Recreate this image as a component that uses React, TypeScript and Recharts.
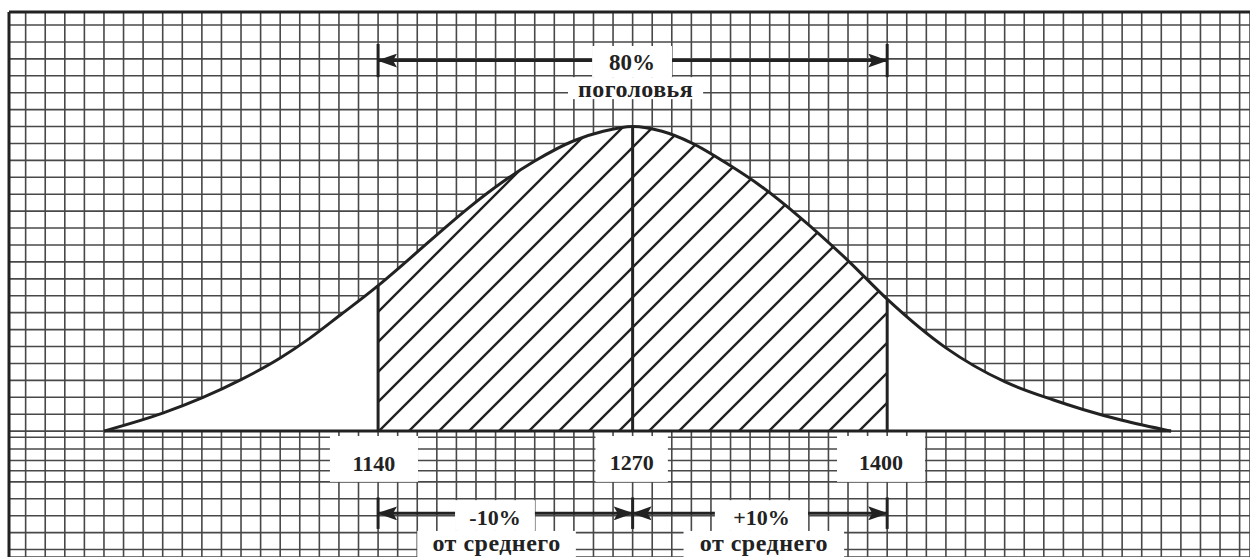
import React from 'react';
import { ComposedChart, Area, Line, XAxis, YAxis, CartesianGrid, ReferenceLine, ReferenceArea } from 'recharts';

// live weight, kg (x) and relative number of heads (y)
const weights = [1000, 1030, 1050, 1070, 1090, 1105, 1120, 1140, 1155, 1170, 1185, 1205, 1220, 1240, 1255, 1270, 1285, 1300, 1320, 1335, 1355, 1380, 1400, 1430, 1460, 1485, 1500, 1520, 1545];
const heads = [0, 5.3, 9.8, 15.2, 21.6, 27.4, 34.0, 43.0, 50.4, 58.0, 65.4, 74.2, 79.8, 85.8, 88.6, 90, 88.6, 85.2, 78.4, 72.6, 63.4, 50.4, 39.0, 24.6, 14.6, 9.2, 6.4, 3.2, 0];

const low = 1140;
const mean = 1270;
const high = 1400;

const xDomain: [number, number] = [951.5, 1585.3];
const yDomain: [number, number] = [-37.2, 123.85];

// graph paper lines
const xGrid = Array.from({ length: 63 }, (_, i) => 960 + i * 10);
const yGrid = [120, 115, 110, 105, 100, 95, 90, 85, 80, 75, 70, 65, 60, 55, 50, 45, 40, 35, 30, 25, 20, 15, 10, 5, 0, -1.8, -5.3, -8.7, -11.7, -15, -20, -25, -30, -35];

const data = weights.map((w, i) => ({
    w,
    h: heads[i],
    hatch: w >= low && w <= high ? heads[i] : null,
}));

const headsAt = (w: number) => heads[weights.indexOf(w)];

const ink = '#222';
const font = '"Liberation Serif", "DejaVu Serif", serif';

const noTick = () => <g />;

const boxShape = (text: string, size: number, baseline: number, spacing = 0) => (p: any) => (
    <g>
        <rect x={p.x} y={p.y} width={p.width} height={p.height} fill="#fff" />
        <text
            x={p.x + p.width / 2}
            y={p.y + p.height / 2 + baseline}
            textAnchor="middle"
            fill={ink}
            fontFamily={font}
            fontWeight="bold"
            fontSize={size}
            letterSpacing={spacing}
        >
            {text}
        </text>
    </g>
);

const seg = (x1: number, y1: number, x2: number, y2: number) => [
    { x: x1, y: y1 },
    { x: x2, y: y2 },
];

const App = () => {
    return (
        <div style={{ position: 'absolute', left: 0, top: 0 }}>
            <ComposedChart width={1250} height={557} data={data} margin={{ top: 12, right: 0, left: 9, bottom: 0 }}>
                <defs>
                    <pattern id="hatch" patternUnits="userSpaceOnUse" width={30} height={30}>
                        <path d="M0,30 L30,0 M-7.5,7.5 L7.5,-7.5 M22.5,37.5 L37.5,22.5" stroke={ink} strokeWidth={2.4} />
                    </pattern>
                    <marker
                        id="arrowHead"
                        viewBox="0 0 20 14"
                        refX={19}
                        refY={7}
                        markerWidth={20}
                        markerHeight={14}
                        markerUnits="userSpaceOnUse"
                        orient="auto"
                    >
                        <path d="M0,0 L20,7 L0,14 L4,7 Z" fill={ink} />
                    </marker>
                </defs>
                <CartesianGrid stroke="#484848" strokeWidth={1.6} />
                <XAxis
                    dataKey="w"
                    type="number"
                    domain={xDomain}
                    ticks={xGrid}
                    interval={0}
                    allowDataOverflow
                    height={0}
                    axisLine={false}
                    tickLine={false}
                    tick={noTick}
                />
                <YAxis
                    type="number"
                    domain={yDomain}
                    ticks={yGrid}
                    interval={0}
                    allowDataOverflow
                    width={0}
                    axisLine={false}
                    tickLine={false}
                    tick={noTick}
                />

                <Area dataKey="h" type="monotone" fill="#fff" fillOpacity={1} stroke="none" isAnimationActive={false} />
                <Area dataKey="hatch" type="monotone" fill="url(#hatch)" fillOpacity={1} stroke="none" isAnimationActive={false} />
                <Line dataKey="h" type="monotone" stroke={ink} strokeWidth={3} dot={false} isAnimationActive={false} />

                {/* frame */}
                <ReferenceLine x={xDomain[0]} stroke={ink} strokeWidth={3} />
                <ReferenceLine y={yDomain[1]} stroke={ink} strokeWidth={3} />

                {/* base line and verticals */}
                <ReferenceLine segment={seg(weights[0], 0, weights[weights.length - 1], 0)} stroke={ink} strokeWidth={3} />
                <ReferenceLine segment={seg(low, 0, low, headsAt(low))} stroke={ink} strokeWidth={3} />
                <ReferenceLine segment={seg(mean, 0, mean, headsAt(mean))} stroke={ink} strokeWidth={3} />
                <ReferenceLine segment={seg(high, 0, high, headsAt(high))} stroke={ink} strokeWidth={3} />

                {/* top arrow: 80% */}
                <ReferenceLine segment={seg(low, 104.6, low, 114.4)} stroke={ink} strokeWidth={3} />
                <ReferenceLine segment={seg(high, 104.6, high, 114.4)} stroke={ink} strokeWidth={3} />
                <ReferenceLine segment={seg(1249.3, 109.5, low, 109.5)} stroke={ink} strokeWidth={3} markerEnd="url(#arrowHead)" />
                <ReferenceLine segment={seg(1290.1, 109.5, high, 109.5)} stroke={ink} strokeWidth={3} markerEnd="url(#arrowHead)" />
                <ReferenceArea x1={1249.3} x2={1290.1} y1={104.6} y2={113.8} shape={boxShape('80%', 23, 8.5)} />
                <ReferenceArea x1={1237} x2={1306} y1={98.1} y2={104.6} shape={boxShape('поголовья', 24, 8.7, 0.4)} />

                {/* bottom arrows: ±10% */}
                <ReferenceLine segment={seg(low, -19.6, low, -28.9)} stroke={ink} strokeWidth={3} />
                <ReferenceLine segment={seg(mean, -19.6, mean, -28.9)} stroke={ink} strokeWidth={3} />
                <ReferenceLine segment={seg(high, -19.6, high, -28.9)} stroke={ink} strokeWidth={3} />
                <ReferenceLine segment={seg(1179.3, -24.3, low, -24.3)} stroke={ink} strokeWidth={3} markerEnd="url(#arrowHead)" />
                <ReferenceLine segment={seg(1220.1, -24.3, mean, -24.3)} stroke={ink} strokeWidth={3} markerEnd="url(#arrowHead)" />
                <ReferenceLine segment={seg(1312, -24.3, mean, -24.3)} stroke={ink} strokeWidth={3} markerEnd="url(#arrowHead)" />
                <ReferenceLine segment={seg(1359.6, -24.3, high, -24.3)} stroke={ink} strokeWidth={3} markerEnd="url(#arrowHead)" />
                <ReferenceArea x1={1179.3} x2={1220.1} y1={-29.5} y2={-20.4} shape={boxShape('-10%', 22, 9.5)} />
                <ReferenceArea x1={1312} x2={1359.6} y1={-29.5} y2={-20.4} shape={boxShape('+10%', 22, 9.5)} />
                <ReferenceArea x1={1160} x2={1241} y1={yDomain[0]} y2={-29.5} shape={boxShape('от среднего', 24, 7, 0.5)} />
                <ReferenceArea x1={1296} x2={1378} y1={yDomain[0]} y2={-29.5} shape={boxShape('от среднего', 24, 7, 0.5)} />

                {/* value labels */}
                <ReferenceArea x1={1115.4} x2={1160.4} y1={-15} y2={-1.45} shape={boxShape(String(low), 22, 12)} />
                <ReferenceArea x1={1251} x2={1288} y1={-15} y2={-1.45} shape={boxShape(String(mean), 22, 11)} />
                <ReferenceArea x1={1374.4} x2={1419.3} y1={-15} y2={-1.45} shape={boxShape(String(high), 22, 11)} />
            </ComposedChart>
        </div>
    );
};

export default App;
